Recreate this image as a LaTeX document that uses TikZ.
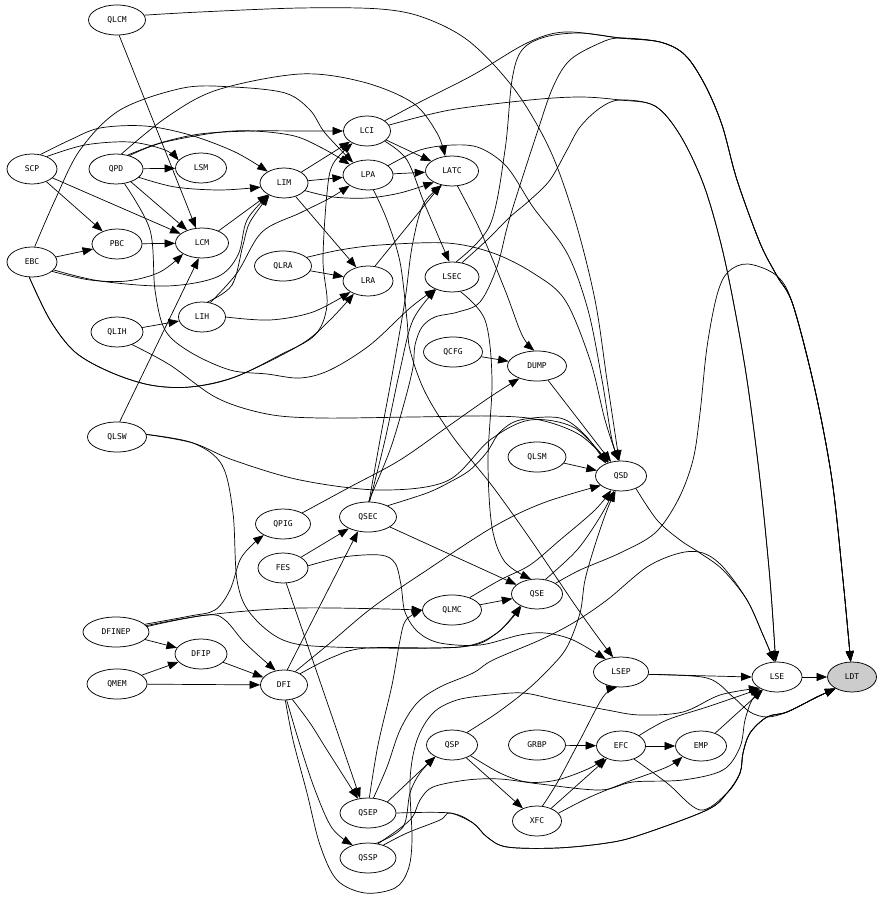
\documentclass[tikz,border=0pt]{standalone}
\usepackage{fontspec}
\newfontfamily\lblfont{DejaVu Sans Mono}
\usetikzlibrary{shapes.geometric,arrows.meta}
\begin{document}
\begin{tikzpicture}[x=1pt,y=-1pt,
  nd/.style={ellipse,draw,line width=0.75pt,minimum height=30pt,minimum width=#1,inner sep=0pt,font=\lblfont\fontsize{8pt}{9pt}\selectfont},
  nd/.default=50pt,
  edge/.style={draw,line width=0.7pt,-{Triangle[length=10.5pt,width=8pt]}},
  sm/.style={smooth,tension=0.55}]
\fill[white] (0,0) rectangle (882,901);
\useasboundingbox (0,0) rectangle (882,901);
% nodes
\node[nd=57pt] (QLCM) at (117,20) {QLCM};
\node[nd=50pt] (SCP) at (32,169) {SCP};
\node[nd=54pt] (QPD) at (116,169) {QPD};
\node[nd=51pt] (LSM) at (201,168) {LSM};
\node[nd=48pt] (LIM) at (284,183) {LIM};
\node[nd=47pt] (LCI) at (367,131) {LCI};
\node[nd=50pt] (LPA) at (368,175) {LPA};
\node[nd=53pt] (LATC) at (452,171) {LATC};
\node[nd=50pt] (EBC) at (32,262) {EBC};
\node[nd=50pt] (PBC) at (117,244) {PBC};
\node[nd=53pt] (LCM) at (202,243) {LCM};
\node[nd=57pt] (QLRA) at (283,266) {QLRA};
\node[nd=50pt] (LRA) at (368,281) {LRA};
\node[nd=54pt] (LSEC) at (452,277) {LSEC};
\node[nd=52pt] (QLIH) at (117,332) {QLIH};
\node[nd=47pt] (LIH) at (202,317) {LIH};
\node[nd=59pt] (QCFG) at (453,352) {QCFG};
\node[nd=59pt] (DUMP) at (537,366) {DUMP};
\node[nd=59pt] (QLSW) at (117,437) {QLSW};
\node[nd=58pt] (QLSM) at (537,457) {QLSM};
\node[nd=51pt] (QSD) at (621,476) {QSD};
\node[nd=55pt] (QPIG) at (283,524) {QPIG};
\node[nd=57pt] (QSEC) at (368,517) {QSEC};
\node[nd=50pt] (FES) at (283,568) {FES};
\node[nd=51pt] (QSE) at (537,594) {QSE};
\node[nd=59pt] (QLMC) at (452,610) {QLMC};
\node[nd=66pt] (DFINEP) at (116,632) {DFINEP};
\node[nd=52pt] (DFIP) at (201,654) {DFIP};
\node[nd=60pt] (QMEM) at (117,684) {QMEM};
\node[nd=47pt] (DFI) at (284,685) {DFI};
\node[nd=55pt] (LSEP) at (621,672) {LSEP};
\node[nd=50pt] (LSE) at (777,677) {LSE};
\node[nd=49pt,fill=black!20] (LDT) at (852,677) {LDT};
\node[nd=51pt] (QSP) at (452,745) {QSP};
\node[nd=57pt] (GRBP) at (537,745) {GRBP};
\node[nd=49pt] (EFC) at (621,746) {EFC};
\node[nd=51pt] (EMP) at (701,746) {EMP};
\node[nd=56pt] (QSEP) at (368,813) {QSEP};
\node[nd=49pt] (XFC) at (537,821) {XFC};
\node[nd=56pt] (QSSP) at (368,858) {QSSP};
% edges
\draw[edge] (QLCM.-82) -- (LCM.112);
\draw[edge] plot[sm] coordinates {(QLCM.10) (200,12) (300,8) (380,9) (425,18) (470,42) (515,90) (550,150) (575,220) (595,300) (607,380) (QSD.97)};
\draw[edge] plot[sm] coordinates {(SCP.40) (85,145) (130,142) (165,150) (LSM.161)};
\draw[edge] plot[sm] coordinates {(SCP.60) (70,140) (100,128) (145,126) (190,135) (235,152) (LIM.145)};
\draw[edge] (SCP) -- (PBC);
\draw[edge] (SCP) -- (LCM);
\draw[edge] (QPD) -- (LSM);
\draw[edge] plot[sm] coordinates {(QPD.-20) (175,187) (220,190) (LIM.190)};
\draw[edge] (QPD) -- (LCM);
\draw[edge] plot[sm] coordinates {(QPD.50) (160,143) (200,134) (250,131) (300,131) (LCI.180)};
\draw[edge] plot[sm] coordinates {(QPD.45) (165,142) (233,131) (290,135) (322,148) (LPA.150)};
\draw[edge] plot[sm] coordinates {(QPD.70) (167,117) (217,90) (300,74) (363,82) (413,103) (437,133) (LATC.115)};
\draw[edge] plot[sm] coordinates {(QPD.-60) (150,230) (155,290) (165,330) (190,352) (230,370) (267,374) (300,378) (330,370) (370,345) (410,308) (LSEC.216)};
\draw[edge] (EBC) -- (PBC);
\draw[edge] plot[sm] coordinates {(EBC.-25) (90,280) (127,281) (160,272) (LCM.210)};
\draw[edge] plot[sm] coordinates {(EBC.80) (55,200) (80,150) (120,110) (183,88) (233,87) (285,93) (310,110) (325,133) (LPA.140)};
\draw[edge] plot[sm] coordinates {(EBC.-100) (50,320) (75,352) (110,372) (150,385) (190,387) (235,377) (300,345) (330,320) (LRA.222)};
\draw[edge] plot[sm] coordinates {(EBC.-100) (50,320) (75,352) (110,372) (150,385) (190,387) (235,377) (280,355) (315,335) (327,305) (323,260) (327,193) (333,164) (LCI.220)};
\draw[edge] plot[sm] coordinates {(EBC.-20) (100,281) (167,286) (217,277) (238,255) (247,220) (LIM.218)};
\draw[edge] (PBC) -- (LCM);
\draw[edge] (LCM) -- (LIM);
\draw[edge] plot[sm] coordinates {(LIH.70) (232,285) (243,245) (250,222) (LIM.220)};
\draw[edge] plot[sm] coordinates {(LIH.60) (237,273) (262,232) (300,213) (330,198) (LPA.210)};
\draw[edge] plot[sm] coordinates {(LIH.0) (270,320) (313,312) (LRA.212)};
\draw[edge] (QLIH) -- (LIH);
\draw[edge] plot[sm] coordinates {(QLIH.-40) (170,365) (217,398) (267,414) (320,418) (413,417) (493,416) (540,420) (580,435) (QSD.132)};
\draw[edge] (QLSW.80) -- (LCM.258);
\draw[edge] plot[sm] coordinates {(QLSW.5) (193,443) (233,460) (300,480) (380,490) (447,481) (490,440) (530,420) (575,428) (QSD.135)};
\draw[edge] plot[sm] coordinates {(QLSW.5) (193,443) (222,465) (233,513) (237,580) (250,613) (283,640) (333,647) (460,647) (497,633) (QSE.218)};
\draw[edge] (QLRA) -- (LRA);
\draw[edge] plot[sm] coordinates {(QLRA.20) (340,250) (380,245) (447,243) (493,253) (533,273) (565,300) (590,360) (605,420) (QSD.100)};
\draw[edge] (LIM) -- (LCI);
\draw[edge] (LIM) -- (LPA);
\draw[edge] plot[sm] coordinates {(LIM.-20) (333,197) (367,198) (400,193) (LATC.212)};
\draw[edge] (LIM) -- (LRA);
\draw[edge] (LCI) -- (LATC);
\draw[edge] plot[sm] coordinates {(LCI.-30) (407,160) (425,205) (LSEC.100)};
\draw[edge] plot[sm] coordinates {(LCI.30) (420,102) (473,75) (527,43) (565,32) (620,38) (660,42) (685,55) (705,85) (722,125) (737,180) (760,243) (777,276) (793,305) (815,390) (832,480) (843,580) (LDT.95)};
\draw[edge] plot[sm] coordinates {(LCI.15) (450,110) (530,100) (580,97) (620,100) (655,106) (680,135) (703,183) (720,240) (733,300) (747,380) (760,480) (770,580) (LSE.95)};
\draw[edge] (LPA) -- (LATC);
\draw[edge] plot[sm] coordinates {(LPA.-70) (387,220) (400,262) (407,320) (410,350) (425,392) (453,437) (493,487) (533,543) (575,605) (600,640) (LSEP.118)};
\draw[edge] plot[sm] coordinates {(LPA.25) (420,150) (453,145) (480,148) (507,167) (533,207) (567,253) (588,310) (602,380) (612,440) (QSD.95)};
\draw[edge] plot[sm] coordinates {(LATC.-70) (480,230) (505,290) (522,335) (DUMP.100)};
\draw[edge] (LRA.65) -- (LATC.232);
\draw[edge] plot[sm] coordinates {(LSEC.-60) (485,320) (492,380) (488,460) (492,527) (505,562) (QSE.112)};
\draw[edge] plot[sm] coordinates {(LSEC.75) (490,225) (505,150) (512,80) (522,50) (545,37) (580,33) (620,38) (660,42) (685,55) (705,85) (722,125) (737,180) (760,243) (777,276) (793,305) (815,390) (832,480) (843,580) (LDT.95)};
\draw[edge] plot[sm] coordinates {(LSEC.55) (487,240) (510,217) (530,200) (550,180) (567,150) (580,127) (600,108) (620,100) (655,106) (680,135) (703,183) (720,240) (733,300) (747,380) (760,480) (770,580) (LSE.95)};
\draw[edge] plot[sm] coordinates {(QSEC.88) (390,450) (405,400) (413,367) (415,345) (422,327) (435,317) (458,312) (480,302) (497,267) (510,217) (537,133) (553,87) (570,60) (600,43) (620,38) (660,42) (685,55) (705,85) (722,125) (737,180) (760,243) (777,276) (793,305) (815,390) (832,480) (843,580) (LDT.95)};
\draw[edge] plot[sm] coordinates {(QSEC.86) (380,440) (393,370) (405,300) (412,247) (423,205) (LATC.235)};
\draw[edge] plot[sm] coordinates {(QSEC.84) (385,440) (400,370) (413,320) (LSEC.218)};
\draw[edge] (QLSM) -- (QSD);
\draw[edge] (QCFG) -- (DUMP);
\draw[edge] (DUMP) -- (QSD.125);
\draw[edge] plot[sm] coordinates {(QPIG.30) (350,487) (400,460) (450,425) (490,397) (DUMP.215)};
\draw[edge] (QSEC) -- (QSE);
\draw[edge] plot[sm] coordinates {(QSEC.30) (427,493) (450,482) (470,470) (487,452) (500,432) (520,420) (560,418) (585,435) (QSD.140)};
\draw[edge] (FES) -- (QSEC);
\draw[edge] (FES.-78) -- (QSEP.118);
\draw[edge] plot[sm] coordinates {(FES.5) (343,557) (380,555) (395,563) (401,585) (405,612) (418,632) (440,643) (480,645) (520,635) (545,633) (573,640) (LSEP.140)};
\draw[edge] plot[sm] coordinates {(DFINEP.15) (190,616) (215,610) (230,590) (240,560) (252,545) (QPIG.210)};
\draw[edge] plot[sm] coordinates {(DFINEP.10) (207,615) (300,608) (QLMC.180)};
\draw[edge] plot[sm] coordinates {(DFINEP.12) (207,615) (225,620) (245,643) (DFI.120)};
\draw[edge] (DFINEP) -- (DFIP);
\draw[edge] (QMEM) -- (DFIP);
\draw[edge] (QMEM) -- (DFI);
\draw[edge] (DFIP) -- (DFI);
\draw[edge] (DFI.78) -- (QSEC.235);
\draw[edge] plot[sm] coordinates {(DFI.50) (330,643) (373,607) (427,570) (493,527) (543,503) (QSD.205)};
\draw[edge] plot[sm] coordinates {(DFI.35) (333,657) (367,648) (460,647) (497,633) (QSE.215)};
\draw[edge] plot[sm] coordinates {(DFI.-60) (310,723) (327,750) (QSEP.125)};
\draw[edge] plot[sm] coordinates {(DFI.-80) (300,745) (315,790) (332,828) (QSSP.140)};
\draw[edge] plot[sm] coordinates {(DFI.-85) (293,740) (307,793) (320,845) (337,880) (365,893) (395,888) (408,870) (412,840) (410,780) (417,740) (433,713) (457,700) (490,695) (523,693) (557,700) (607,710) (640,715) (683,712) (720,695) (LSE.212)};
\draw[edge] (QLMC) -- (QSE);
\draw[edge] plot[sm] coordinates {(QLMC.35) (500,580) (530,565) (560,540) (595,510) (QSD.235)};
\draw[edge] plot[sm] coordinates {(QSE.60) (577,550) (600,517) (QSD.245)};
\draw[edge] plot[sm] coordinates {(QSE.30) (580,570) (620,553) (655,533) (678,500) (693,460) (700,413) (707,347) (717,295) (728,272) (748,264) (777,276) (793,305) (815,390) (832,480) (843,580) (LDT.95)};
\draw[edge] plot[sm] coordinates {(QSD.-40) (657,520) (680,540) (700,553) (723,570) (747,600) (763,635) (LSE.100)};
\draw[edge] (LSEP.-5) -- (LSE.180);
\draw[edge] plot[sm] coordinates {(LSEP.-5) (707,678) (733,697) (750,712) (767,717) (787,712) (817,697) (LDT.215)};
\draw[edge] (LSE) -- (LDT);
\draw[edge] (QSP) -- (XFC);
\draw[edge] plot[sm] coordinates {(QSP.-30) (500,773) (527,782) (557,780) (590,768) (EFC.215)};
\draw[edge] plot[sm] coordinates {(QSP.40) (497,713) (527,690) (550,668) (567,647) (580,613) (585,580) (595,545) (607,510) (QSD.250)};
\draw[edge] (GRBP) -- (EFC);
\draw[edge] (EFC) -- (EMP);
\draw[edge] plot[sm] coordinates {(EFC.30) (667,720) (710,706) (LSE.215)};
\draw[edge] plot[sm] coordinates {(EFC.-45) (667,783) (700,810) (727,793) (740,773) (743,753) (750,733) (767,717) (787,712) (817,697) (LDT.215)};
\draw[edge] (EMP) -- (LSE);
\draw[edge] (XFC) -- (EFC);
\draw[edge] plot[sm] coordinates {(XFC.70) (557,783) (580,740) (603,697) (LSEP.255)};
\draw[edge] plot[sm] coordinates {(XFC.20) (590,797) (627,782) (667,767) (EMP.210)};
\draw[edge] (QSEP.30) -- (QSP.215);
\draw[edge] plot[sm] coordinates {(QSEP.85) (378,745) (392,685) (400,640) (406,620) (QLMC.180)};
\draw[edge] plot[sm] coordinates {(QSEP.70) (387,767) (400,730) (417,703) (440,687) (473,673) (493,660) (540,640) (573,623) (607,600) (647,567) (680,553) (703,553) (723,567) (747,600) (763,635) (LSE.100)};
\draw[edge] plot[sm] coordinates {(QSEP.0) (450,813) (473,823) (487,837) (507,847) (557,848) (607,843) (640,835) (707,810) (727,793) (740,773) (743,753) (750,733) (767,717) (787,712) (817,697) (LDT.215)};
\draw[edge] plot[sm] coordinates {(QSSP.60) (403,827) (410,793) (420,773) (QSP.215)};
\draw[edge] plot[sm] coordinates {(QSSP.40) (407,833) (440,820) (450,813) (473,823) (487,837) (507,847) (557,848) (607,843) (640,835) (707,810) (727,793) (740,773) (743,753) (750,733) (767,717) (787,712) (817,697) (LDT.215)};
\draw[edge] plot[sm] coordinates {(QSSP.55) (410,820) (420,800) (433,787) (467,780) (500,779) (540,784) (600,790) (633,782) (683,780) (723,770) (740,747) (745,720) (752,700) (LSE.220)};
\end{tikzpicture}
\end{document}
